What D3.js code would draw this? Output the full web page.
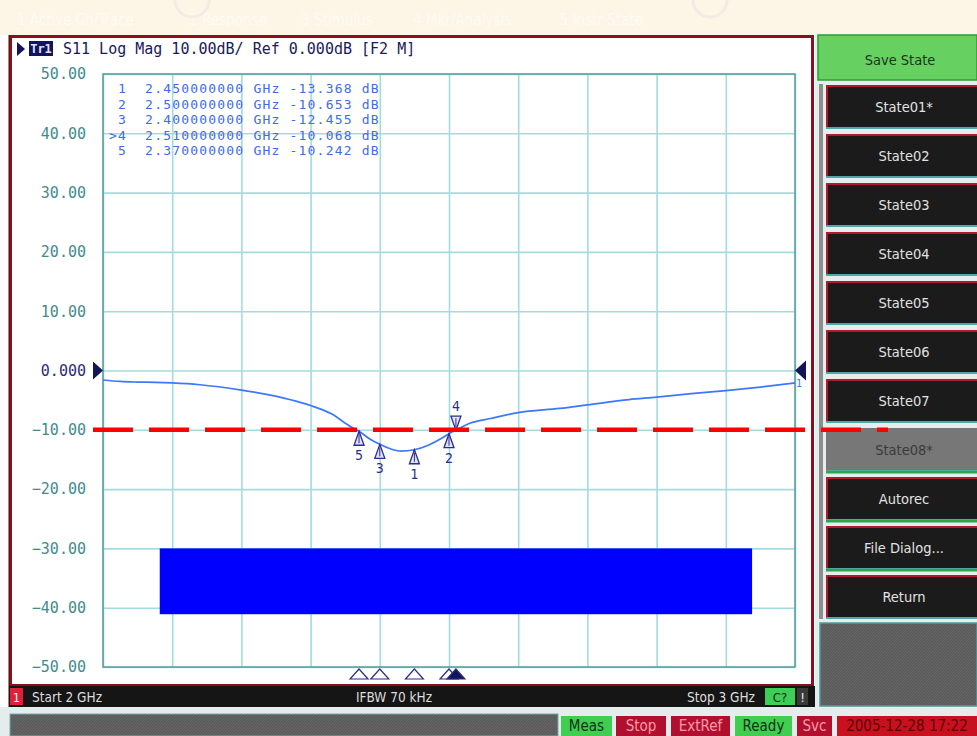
<!DOCTYPE html>
<html>
<head>
<meta charset="utf-8">
<script src="https://cdn.jsdelivr.net/npm/d3@7"></script>
<style>
  body { margin: 0; background: #fff; }
  svg { display: block; }
  .mono { font-family: "DejaVu Sans Mono", monospace; }
  .ui { font-family: "DejaVu Sans Condensed", "DejaVu Sans", sans-serif; }
</style>
</head>
<body>
<div id="chart"></div>
<script>
// S11 trace (GHz / dB)
const freqGHz = [2.00, 2.025, 2.05, 2.075, 2.10, 2.14, 2.20, 2.24, 2.28, 2.30, 2.33, 2.357, 2.37, 2.385, 2.40, 2.415, 2.43, 2.45, 2.47, 2.49, 2.50, 2.51, 2.53, 2.56, 2.60, 2.66, 2.70, 2.76, 2.80, 2.85, 2.90, 2.95, 3.00];
const s11dB = [-1.6, -1.85, -1.95, -2.0, -2.1, -2.4, -3.3, -4.1, -5.2, -5.9, -7.3, -9.4, -10.242, -11.5, -12.455, -13.2, -13.6, -13.368, -12.6, -11.4, -10.653, -10.068, -8.9, -8.1, -7.1, -6.4, -5.8, -4.9, -4.5, -3.9, -3.4, -2.8, -2.1];

// markers
const markerIds = ["1", "2", "3", "4", "5"];
const markerGHz = [2.45, 2.50, 2.40, 2.51, 2.37];
const markerDb = [-13.368, -10.653, -12.455, -10.068, -10.242];
const activeMarker = "4";

// axes / limits
const yTicks = [50, 40, 30, 20, 10, 0, -10, -20, -30, -40, -50];
const xTicks = [2.0, 2.1, 2.2, 2.3, 2.4, 2.5, 2.6, 2.7, 2.8, 2.9, 3.0];
const limitDb = -10;
const maskGHz = [2.082, 2.938];
const maskDb = [-30, -41.1];

// screen texts
const menuItems = ["1 Active Ch/Trace", "2 Response", "3 Stimulus", "4 Mkr/Analysis", "5 Instr State"];
const titleText = "S11 Log Mag 10.00dB/ Ref 0.000dB [F2 M]";
const stateButtons = ["State01*", "State02", "State03", "State04", "State05", "State06", "State07", "State08*", "Autorec", "File Dialog...", "Return"];
const statusItems = ["Meas", "Stop", "ExtRef", "Ready", "Svc", "2005-12-28 17:22"];

const W = 977, H = 736;
const svg = d3.select("#chart").append("svg").attr("width", W).attr("height", H);

// hatch pattern for gray panels
const defs = svg.append("defs");
const pat = defs.append("pattern").attr("id", "hatch").attr("width", 3).attr("height", 3)
    .attr("patternUnits", "userSpaceOnUse");
pat.append("rect").attr("width", 3).attr("height", 3).attr("fill", "#5b5b5b");
pat.append("path").attr("d", "M0,3 L3,0").attr("stroke", "#686868").attr("stroke-width", 1);

// top menu band (faded)
svg.append("rect").attr("x", 0).attr("y", 0).attr("width", W).attr("height", 35).attr("fill", "#fdf5e6");
let mx = 17;
menuItems.forEach(m => {
    svg.append("text").attr("class", "ui").attr("x", mx).attr("y", 25)
        .attr("font-size", 15).attr("fill", "#fffbf4").text(m);
    mx += m.length * 8.6 + 26;
});
// faint watermark arcs
[[192, 0], [710, 0]].forEach(([cx, cy]) => {
    svg.append("circle").attr("cx", cx).attr("cy", cy).attr("r", 17)
        .attr("fill", "none").attr("stroke", "#f1ece5").attr("stroke-width", 3);
});

// chart window
svg.append("rect").attr("x", 10.5).attr("y", 36.5).attr("width", 802).attr("height", 649)
    .attr("fill", "#fff").attr("stroke", "#8c0f1f").attr("stroke-width", 3);
svg.append("line").attr("x1", 9).attr("x2", 9).attr("y1", 35).attr("y2", 707)
    .attr("stroke", "#4a0a10").attr("stroke-width", 1);

// scales
const x = d3.scaleLinear().domain([2, 3]).range([103, 795]);
const y = d3.scaleLinear().domain([-50, 50]).range([667, 74]);

// grid
const gx = svg.append("g").attr("transform", `translate(0,${y(-50)})`)
    .call(d3.axisBottom(x).tickValues(xTicks).tickSize(-(y(-50) - y(50))).tickFormat(""));
gx.select(".domain").remove();
gx.selectAll("line").attr("stroke", "#a2dddd").attr("stroke-width", 1.6);

const gy = svg.append("g").attr("transform", `translate(${x(2)},0)`)
    .call(d3.axisLeft(y).tickValues(yTicks).tickSize(-(x(3) - x(2))).tickPadding(17)
        .tickFormat(d => d === 0 ? "0.000" : d3.format(".2f")(d)));
gy.select(".domain").remove();
gy.selectAll("line").attr("stroke", "#a2dddd").attr("stroke-width", 1.6);
gy.selectAll("text").attr("class", "mono").attr("font-size", 15)
    .attr("fill", d => d === 0 ? "#2c2c7e" : "#3f8c8c");

svg.append("rect").attr("x", x(2)).attr("y", y(50)).attr("width", x(3) - x(2)).attr("height", y(-50) - y(50))
    .attr("fill", "none").attr("stroke", "#5f9f9f").attr("stroke-width", 1.6);

// title line
svg.append("path").attr("d", "M17,42 L25,49 L17,56 Z").attr("fill", "#14145a");
svg.append("rect").attr("x", 29).attr("y", 41).attr("width", 24).attr("height", 15).attr("fill", "#14145a");
svg.append("text").attr("class", "mono").attr("x", 41).attr("y", 53).attr("text-anchor", "middle")
    .attr("font-size", 12).attr("font-weight", "bold").attr("fill", "#dfe3ff").text("Tr1");
svg.append("text").attr("class", "mono").attr("x", 63).attr("y", 54)
    .attr("font-size", 15).attr("fill", "#1a1a5c").text(titleText);

// mask block
svg.append("rect").attr("x", x(maskGHz[0])).attr("y", y(maskDb[0]))
    .attr("width", x(maskGHz[1]) - x(maskGHz[0])).attr("height", y(maskDb[1]) - y(maskDb[0]))
    .attr("fill", "#0000ff");

// marker table (tight rows, spaced glyphs to keep the wide mono pitch)
markerIds.forEach((id, i) => {
    const lead = id === activeMarker ? ">" + id : " " + id;
    const row = `${lead}  ${markerGHz[i].toFixed(9)} GHz ${markerDb[i].toFixed(3)} dB`;
    svg.append("text").attr("class", "mono").attr("x", 109).attr("y", 93 + i * 15.5)
        .attr("font-size", 13).attr("letter-spacing", 1.2)
        .attr("fill", "#3d6bef").attr("xml:space", "preserve")
        .style("white-space", "pre").text(row);
});

// reference level arrows
svg.append("path").attr("d", `M93,${y(0) - 9} L103,${y(0)} L93,${y(0) + 9} Z`).attr("fill", "#14145a");
svg.append("path").attr("d", `M806,${y(0) - 10} L795,${y(0)} L806,${y(0) + 10} Z`).attr("fill", "#14145a");

// trace
const line = d3.line().x(d => x(d[0])).y(d => y(d[1])).curve(d3.curveMonotoneX);
svg.append("path").datum(freqGHz.map((f, i) => [f, s11dB[i]]))
    .attr("d", line).attr("fill", "none").attr("stroke", "#3b78ff").attr("stroke-width", 1.7);
svg.append("text").attr("class", "mono").attr("x", 796).attr("y", y(s11dB[s11dB.length - 1]) + 4)
    .attr("font-size", 10).attr("fill", "#3b78ff").text("1");

// markers on trace
markerIds.forEach((id, i) => {
    const mxp = x(markerGHz[i]), myp = y(markerDb[i]);
    const g = svg.append("g");
    if (id === activeMarker) {
        g.append("path").attr("d", `M${mxp},${myp} L${mxp - 5},${myp - 14} L${mxp + 5},${myp - 14} Z`)
            .attr("fill", "#dde2ff").attr("stroke", "#2c2c8c").attr("stroke-width", 1.3);
        g.append("line").attr("x1", mxp).attr("x2", mxp).attr("y1", myp - 12).attr("y2", myp - 3)
            .attr("stroke", "#2c2c8c").attr("stroke-width", 1);
        g.append("text").attr("class", "ui").attr("x", mxp).attr("y", myp - 19).attr("text-anchor", "middle")
            .attr("font-size", 14).attr("fill", "#2c2c8c").text(id);
    } else {
        g.append("path").attr("d", `M${mxp},${myp} L${mxp - 5},${myp + 14} L${mxp + 5},${myp + 14} Z`)
            .attr("fill", "#dde2ff").attr("stroke", "#2c2c8c").attr("stroke-width", 1.3);
        g.append("line").attr("x1", mxp).attr("x2", mxp).attr("y1", myp + 3).attr("y2", myp + 12)
            .attr("stroke", "#2c2c8c").attr("stroke-width", 1);
        g.append("text").attr("class", "ui").attr("x", mxp).attr("y", myp + 29).attr("text-anchor", "middle")
            .attr("font-size", 14).attr("fill", "#2c2c8c").text(id);
    }
});

// marker position indicators along the bottom
markerIds.forEach((id, i) => {
    const mxp = x(markerGHz[i]);
    svg.append("path").attr("d", `M${mxp},669 L${mxp - 9},679 L${mxp + 9},679 Z`)
        .attr("fill", id === activeMarker ? "#14145a" : "#fff")
        .attr("stroke", "#2c2c8c").attr("stroke-width", 1.2);
});

// channel status bar
svg.append("rect").attr("x", 9).attr("y", 686).attr("width", 806).attr("height", 21).attr("fill", "#151515");
svg.append("rect").attr("x", 10).attr("y", 688).attr("width", 13).attr("height", 17).attr("fill", "#e0203a");
svg.append("text").attr("class", "ui").attr("x", 16.5).attr("y", 702).attr("text-anchor", "middle")
    .attr("font-size", 12).attr("fill", "#fff").text("1");
svg.append("text").attr("class", "ui").attr("x", 32).attr("y", 702).attr("font-size", 13.5).attr("fill", "#dedede").text("Start 2 GHz");
svg.append("text").attr("class", "ui").attr("x", 394).attr("y", 702).attr("text-anchor", "middle")
    .attr("font-size", 13.5).attr("fill", "#dedede").text("IFBW 70 kHz");
svg.append("text").attr("class", "ui").attr("x", 755).attr("y", 702).attr("text-anchor", "end")
    .attr("font-size", 13.5).attr("fill", "#dedede").text("Stop 3 GHz");
svg.append("rect").attr("x", 765).attr("y", 688).attr("width", 30).attr("height", 17).attr("fill", "#3ccf55");
svg.append("text").attr("class", "ui").attr("x", 780).attr("y", 702).attr("text-anchor", "middle")
    .attr("font-size", 13).attr("fill", "#1a2a1a").text("C?");
svg.append("rect").attr("x", 797).attr("y", 688).attr("width", 11).attr("height", 17).attr("fill", "#3a3a3a");
svg.append("text").attr("class", "ui").attr("x", 802.5).attr("y", 702).attr("text-anchor", "middle")
    .attr("font-size", 13).attr("fill", "#eee").text("!");

// right softkey panel
svg.append("rect").attr("x", 815).attr("y", 35).attr("width", 162).attr("height", 672).attr("fill", "#e6eded");
svg.append("rect").attr("x", 818).attr("y", 35).attr("width", 159).attr("height", 45)
    .attr("fill", "#66d160").attr("stroke", "#2f9a36").attr("stroke-width", 1.5);
svg.append("text").attr("class", "ui").attr("x", 900).attr("y", 65).attr("text-anchor", "middle")
    .attr("font-size", 14.5).attr("fill", "#1d3320").text("Save State");
svg.append("rect").attr("x", 819).attr("y", 84).attr("width", 4).attr("height", 535).attr("fill", "#8e8e8e");

stateButtons.forEach((label, i) => {
    const top = 85 + 49 * i;
    const dim = label === "State08*";
    if (i > 7) {
        svg.append("rect").attr("x", 826).attr("y", top - 6).attr("width", 151).attr("height", 2.5).attr("fill", "#2fa54a");
    }
    svg.append("rect").attr("x", 826).attr("y", top).attr("width", 151).attr("height", 43)
        .attr("fill", dim ? "#777" : "#1b1b1b");
    if (!dim) {
        svg.append("path").attr("d", `M827,${top + 43} L827,${top + 1} L977,${top + 1}`)
            .attr("fill", "none").attr("stroke", "#b01a2c").attr("stroke-width", 2);
    }
    svg.append("rect").attr("x", 826).attr("y", top + 42).attr("width", 151).attr("height", 2).attr("fill", "#4fa8a8");
    svg.append("text").attr("class", "ui").attr("x", 904).attr("y", top + 27).attr("text-anchor", "middle")
        .attr("font-size", 14.5).attr("fill", dim ? "#3a3a3a" : "#e2e2e2").text(label);
});
svg.append("rect").attr("x", 820).attr("y", 623).attr("width", 157).attr("height", 83)
    .attr("fill", "url(#hatch)").attr("stroke", "#4e9a9a").attr("stroke-width", 1.5);

// limit line (drawn across onto the panel, like the screen)
svg.append("line").attr("x1", 93).attr("x2", 888).attr("y1", y(limitDb)).attr("y2", y(limitDb))
    .attr("stroke", "#ff0000").attr("stroke-width", 4.5).attr("stroke-dasharray", "40 16");

// instrument status bar
svg.append("rect").attr("x", 0).attr("y", 707).attr("width", W).attr("height", 29).attr("fill", "#e4ecec");
svg.append("rect").attr("x", 10).attr("y", 714).attr("width", 548).attr("height", 22)
    .attr("fill", "url(#hatch)").attr("stroke", "#7aa").attr("stroke-width", 1);
const statusX = [561, 616, 671, 735, 797, 837];
const statusW = [51, 50, 59, 57, 35, 140];
const statusBg = ["#3fce50", "#b0102e", "#b0102e", "#3fce50", "#b0102e", "#c8101e"];
const statusFg = ["#143018", "#ff9aa8", "#ff9aa8", "#143018", "#ff9aa8", "#5a0008"];
statusItems.forEach((s, i) => {
    svg.append("rect").attr("x", statusX[i]).attr("y", 716).attr("width", statusW[i]).attr("height", 20).attr("fill", statusBg[i]);
    svg.append("text").attr("class", "ui").attr("x", statusX[i] + statusW[i] / 2).attr("y", 731)
        .attr("text-anchor", "middle").attr("font-size", 15).attr("fill", statusFg[i]).text(s);
});
</script>
</body>
</html>
